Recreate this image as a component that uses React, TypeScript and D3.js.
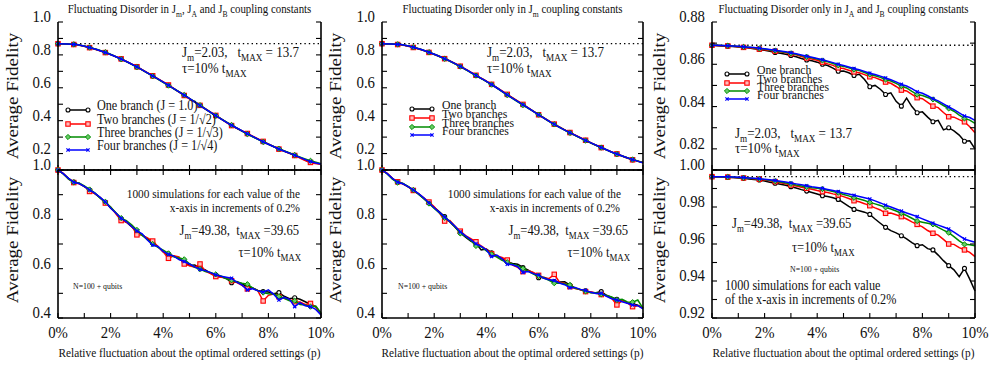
import React from 'react';
import * as d3 from 'd3';

const W = 990;
const H = 365;
const FONT = 'Liberation Serif, Times New Roman, serif';
const SQ = 0.87; // text in the figure is a little narrow

// x positions (percent of fluctuation)
const xCoarse = [0, 0.6, 1.2, 1.8, 2.4, 3.0, 3.6, 4.2, 4.8, 5.4, 6.0, 6.6, 7.2, 7.8, 8.4, 9.0, 9.6, 10];
const xFine = [0, 0.2, 0.4, 0.6, 0.8, 1.0, 1.2, 1.4, 1.6, 1.8, 2.0, 2.2, 2.4, 2.6, 2.8, 3.0, 3.2, 3.4, 3.6, 3.8,
  4.0, 4.2, 4.4, 4.6, 4.8, 5.0, 5.2, 5.4, 5.6, 5.8, 6.0, 6.2, 6.4, 6.6, 6.8, 7.0, 7.2, 7.4, 7.6, 7.8,
  8.0, 8.2, 8.4, 8.6, 8.8, 9.0, 9.2, 9.4, 9.6, 9.8, 10];

const seriesNames = ['One branch', 'Two branches', 'Three branches', 'Four branches'];
const seriesNamesJ = ['One branch (J = 1.0)', 'Two branches (J = 1/\u221A2)', 'Three branches (J = 1/\u221A3)', 'Four branches (J = 1/\u221A4)'];
const colors = ['#000000', '#ff0000', '#008b00', '#0000ff'];
const xTickLabels = ['0%', '2%', '4%', '6%', '8%', '10%'];

// top-left: disorder in Jm, JA, JB (N small)
const tlOne = [0.868, 0.864, 0.845, 0.815, 0.775, 0.727, 0.672, 0.615, 0.555, 0.492, 0.430, 0.372, 0.320, 0.272, 0.228, 0.190, 0.148, 0.137];
const tlTwo = [0.868, 0.863, 0.844, 0.814, 0.776, 0.728, 0.673, 0.617, 0.553, 0.493, 0.432, 0.370, 0.322, 0.274, 0.227, 0.188, 0.146, 0.135];
const tlThree = [0.868, 0.864, 0.845, 0.816, 0.774, 0.726, 0.671, 0.613, 0.556, 0.494, 0.431, 0.373, 0.319, 0.271, 0.229, 0.191, 0.156, 0.138];
const tlFour = [0.868, 0.864, 0.845, 0.815, 0.775, 0.727, 0.672, 0.615, 0.555, 0.492, 0.431, 0.372, 0.321, 0.272, 0.228, 0.190, 0.152, 0.136];

// top-middle: disorder only in Jm
const tmOne = [0.868, 0.864, 0.846, 0.816, 0.778, 0.730, 0.675, 0.620, 0.558, 0.497, 0.437, 0.378, 0.327, 0.280, 0.237, 0.197, 0.163, 0.145];
const tmTwo = [0.868, 0.863, 0.845, 0.815, 0.777, 0.731, 0.676, 0.621, 0.560, 0.499, 0.436, 0.379, 0.328, 0.281, 0.236, 0.198, 0.162, 0.144];
const tmThree = [0.868, 0.864, 0.846, 0.816, 0.776, 0.729, 0.674, 0.619, 0.556, 0.495, 0.437, 0.377, 0.326, 0.279, 0.236, 0.196, 0.164, 0.145];
const tmFour = [0.868, 0.864, 0.846, 0.816, 0.777, 0.730, 0.675, 0.620, 0.557, 0.497, 0.436, 0.378, 0.327, 0.280, 0.237, 0.197, 0.163, 0.144];

// top-right: disorder only in JA, JB
const trOne = [0.8690, 0.8688, 0.8687, 0.8685, 0.8684, 0.8682, 0.8680, 0.8677, 0.8674, 0.8670, 0.8666, 0.8661, 0.8656, 0.8652, 0.8647, 0.8642, 0.8636, 0.8627, 0.8620, 0.8617,
  0.8610, 0.8600, 0.8594, 0.8582, 0.8567, 0.8568, 0.8560, 0.8547, 0.8553, 0.8528, 0.8494, 0.8500, 0.8482, 0.8457, 0.8465, 0.8425, 0.8402, 0.8440, 0.8400, 0.8371,
  0.8375, 0.8350, 0.8328, 0.8335, 0.8290, 0.8300, 0.8285, 0.8265, 0.8236, 0.8238, 0.8200];
const trTwo = [0.8690, 0.8689, 0.8688, 0.8687, 0.8685, 0.8683, 0.8680, 0.8678, 0.8675, 0.8672, 0.8669, 0.8665, 0.8662, 0.8659, 0.8654, 0.8650, 0.8645, 0.8637, 0.8630, 0.8625,
  0.8619, 0.8610, 0.8602, 0.8595, 0.8583, 0.8580, 0.8572, 0.8564, 0.8560, 0.8551, 0.8541, 0.8537, 0.8527, 0.8516, 0.8510, 0.8495, 0.8478, 0.8474, 0.8458, 0.8442,
  0.8437, 0.8420, 0.8402, 0.8395, 0.8372, 0.8352, 0.8350, 0.8338, 0.8328, 0.8305, 0.8276];
const trThree = [0.8690, 0.8690, 0.8689, 0.8688, 0.8686, 0.8684, 0.8682, 0.8680, 0.8678, 0.8675, 0.8672, 0.8668, 0.8665, 0.8661, 0.8657, 0.8652, 0.8647, 0.8641, 0.8635, 0.8631,
  0.8625, 0.8618, 0.8612, 0.8604, 0.8595, 0.8590, 0.8583, 0.8575, 0.8570, 0.8561, 0.8552, 0.8546, 0.8538, 0.8528, 0.8521, 0.8510, 0.8497, 0.8488, 0.8472, 0.8457,
  0.8452, 0.8443, 0.8434, 0.8420, 0.8405, 0.8391, 0.8378, 0.8360, 0.8344, 0.8336, 0.8320];
const trFour = [0.8690, 0.8690, 0.8689, 0.8688, 0.8687, 0.8685, 0.8683, 0.8681, 0.8679, 0.8676, 0.8673, 0.8670, 0.8667, 0.8663, 0.8659, 0.8655, 0.8650, 0.8644, 0.8638, 0.8633,
  0.8627, 0.8621, 0.8615, 0.8608, 0.8600, 0.8594, 0.8587, 0.8580, 0.8574, 0.8566, 0.8558, 0.8552, 0.8544, 0.8535, 0.8527, 0.8517, 0.8505, 0.8497, 0.8485, 0.8470,
  0.8463, 0.8451, 0.8437, 0.8427, 0.8413, 0.8398, 0.8386, 0.8370, 0.8355, 0.8348, 0.8335];

// bottom-left: N=100+, disorder in Jm, JA, JB
const blOne = [1.000, 0.984, 0.966, 0.951, 0.946, 0.933, 0.919, 0.904, 0.889, 0.869, 0.846, 0.826, 0.802, 0.788, 0.770, 0.750, 0.737, 0.722, 0.705, 0.690,
  0.668, 0.659, 0.652, 0.640, 0.626, 0.613, 0.615, 0.603, 0.595, 0.582, 0.570, 0.567, 0.560, 0.543, 0.548, 0.538, 0.527, 0.522, 0.512, 0.507,
  0.505, 0.498, 0.503, 0.488, 0.478, 0.482, 0.476, 0.466, 0.455, 0.445, 0.418];
const blTwo = [1.000, 0.986, 0.964, 0.949, 0.944, 0.935, 0.913, 0.904, 0.888, 0.866, 0.850, 0.822, 0.795, 0.789, 0.774, 0.737, 0.736, 0.725, 0.712, 0.690,
  0.668, 0.642, 0.652, 0.648, 0.619, 0.612, 0.606, 0.619, 0.590, 0.580, 0.568, 0.565, 0.563, 0.551, 0.544, 0.532, 0.518, 0.521, 0.510, 0.469,
  0.492, 0.497, 0.486, 0.480, 0.474, 0.466, 0.465, 0.455, 0.459, 0.445, 0.415];
const blThree = [1.000, 0.985, 0.963, 0.950, 0.947, 0.936, 0.921, 0.907, 0.886, 0.871, 0.850, 0.827, 0.805, 0.795, 0.778, 0.757, 0.735, 0.718, 0.700, 0.686,
  0.675, 0.662, 0.648, 0.643, 0.638, 0.620, 0.605, 0.598, 0.588, 0.585, 0.577, 0.570, 0.559, 0.553, 0.546, 0.541, 0.537, 0.522, 0.510, 0.503,
  0.498, 0.497, 0.488, 0.480, 0.470, 0.470, 0.455, 0.453, 0.446, 0.448, 0.420];
const blFour = [1.000, 0.985, 0.966, 0.950, 0.945, 0.934, 0.919, 0.906, 0.889, 0.871, 0.846, 0.826, 0.804, 0.791, 0.771, 0.753, 0.741, 0.716, 0.696, 0.690,
  0.670, 0.658, 0.651, 0.637, 0.629, 0.619, 0.607, 0.597, 0.592, 0.584, 0.575, 0.569, 0.565, 0.561, 0.545, 0.533, 0.514, 0.519, 0.510, 0.505,
  0.514, 0.496, 0.473, 0.484, 0.476, 0.446, 0.462, 0.450, 0.446, 0.435, 0.412];

// bottom-middle: N=100+, disorder only in Jm
const bmOne = [1.000, 0.985, 0.965, 0.951, 0.945, 0.932, 0.918, 0.902, 0.885, 0.867, 0.849, 0.830, 0.811, 0.789, 0.768, 0.746, 0.728, 0.712, 0.703, 0.676,
  0.680, 0.664, 0.652, 0.640, 0.628, 0.621, 0.618, 0.605, 0.594, 0.582, 0.563, 0.565, 0.556, 0.548, 0.546, 0.547, 0.533, 0.522, 0.514, 0.510,
  0.503, 0.502, 0.507, 0.492, 0.483, 0.476, 0.472, 0.461, 0.458, 0.452, 0.440];
const bmTwo = [1.000, 0.986, 0.966, 0.952, 0.943, 0.933, 0.917, 0.904, 0.887, 0.870, 0.851, 0.826, 0.793, 0.795, 0.772, 0.752, 0.734, 0.722, 0.709, 0.692,
  0.677, 0.660, 0.652, 0.645, 0.635, 0.614, 0.605, 0.588, 0.592, 0.585, 0.573, 0.562, 0.560, 0.577, 0.545, 0.540, 0.527, 0.519, 0.515, 0.507,
  0.506, 0.500, 0.495, 0.490, 0.480, 0.453, 0.470, 0.461, 0.446, 0.450, 0.440];
const bmThree = [1.000, 0.984, 0.963, 0.949, 0.945, 0.934, 0.919, 0.902, 0.884, 0.864, 0.844, 0.826, 0.806, 0.792, 0.770, 0.743, 0.731, 0.715, 0.692, 0.689,
  0.672, 0.658, 0.647, 0.634, 0.626, 0.618, 0.612, 0.600, 0.590, 0.578, 0.570, 0.562, 0.553, 0.541, 0.542, 0.538, 0.534, 0.520, 0.516, 0.508,
  0.502, 0.502, 0.496, 0.491, 0.485, 0.473, 0.476, 0.465, 0.464, 0.473, 0.439];
const bmFour = [1.000, 0.985, 0.966, 0.950, 0.944, 0.933, 0.919, 0.904, 0.887, 0.866, 0.847, 0.828, 0.809, 0.791, 0.772, 0.749, 0.733, 0.718, 0.701, 0.690,
  0.676, 0.649, 0.655, 0.640, 0.618, 0.616, 0.608, 0.585, 0.588, 0.580, 0.574, 0.561, 0.555, 0.552, 0.542, 0.535, 0.523, 0.524, 0.516, 0.512,
  0.504, 0.499, 0.500, 0.488, 0.478, 0.473, 0.466, 0.460, 0.453, 0.450, 0.437];

// bottom-right: N=100+, disorder only in JA, JB
const brOne = [0.9964, 0.9963, 0.9962, 0.9960, 0.9959, 0.9957, 0.9955, 0.9952, 0.9949, 0.9946, 0.9940, 0.9934, 0.9928, 0.9923, 0.9917, 0.9910, 0.9903, 0.9894, 0.9886, 0.9878,
  0.9870, 0.9861, 0.9857, 0.9850, 0.9841, 0.9822, 0.9803, 0.9787, 0.9780, 0.9772, 0.9760, 0.9735, 0.9712, 0.9690, 0.9672, 0.9660, 0.9645, 0.9628, 0.9608, 0.9591,
  0.9596, 0.9575, 0.9568, 0.9540, 0.9510, 0.9483, 0.9460, 0.9423, 0.9468, 0.9410, 0.9346];
const brTwo = [0.9964, 0.9964, 0.9963, 0.9962, 0.9960, 0.9959, 0.9957, 0.9955, 0.9953, 0.9950, 0.9946, 0.9942, 0.9937, 0.9931, 0.9925, 0.9919, 0.9913, 0.9907, 0.9901, 0.9896,
  0.9889, 0.9883, 0.9878, 0.9871, 0.9865, 0.9856, 0.9846, 0.9834, 0.9828, 0.9818, 0.9807, 0.9795, 0.9784, 0.9766, 0.9768, 0.9758, 0.9748, 0.9735, 0.9720, 0.9706,
  0.9693, 0.9673, 0.9658, 0.9648, 0.9625, 0.9600, 0.9598, 0.9580, 0.9568, 0.9555, 0.9532];
const brThree = [0.9964, 0.9964, 0.9963, 0.9962, 0.9961, 0.9960, 0.9958, 0.9956, 0.9954, 0.9952, 0.9948, 0.9944, 0.9940, 0.9935, 0.9930, 0.9925, 0.9919, 0.9914, 0.9908, 0.9904,
  0.9901, 0.9897, 0.9891, 0.9884, 0.9877, 0.9868, 0.9860, 0.9850, 0.9843, 0.9835, 0.9825, 0.9817, 0.9808, 0.9798, 0.9789, 0.9778, 0.9766, 0.9754, 0.9739, 0.9724,
  0.9718, 0.9712, 0.9706, 0.9690, 0.9675, 0.9661, 0.9640, 0.9617, 0.9598, 0.9596, 0.9591];
const brFour = [0.9964, 0.9964, 0.9964, 0.9963, 0.9962, 0.9961, 0.9959, 0.9957, 0.9955, 0.9953, 0.9950, 0.9947, 0.9943, 0.9939, 0.9935, 0.9930, 0.9925, 0.9920, 0.9915, 0.9910,
  0.9906, 0.9901, 0.9895, 0.9889, 0.9883, 0.9876, 0.9870, 0.9863, 0.9857, 0.9850, 0.9843, 0.9833, 0.9822, 0.9810, 0.9800, 0.9789, 0.9778, 0.9768, 0.9758, 0.9748,
  0.9736, 0.9724, 0.9712, 0.9702, 0.9692, 0.9681, 0.9664, 0.9645, 0.9627, 0.9618, 0.9609];

// rich text: parts starting with "_" are subscripts
const Rich = ({ parts, size }) => {
  let shifted = false;
  return parts.map((p, i) => {
    const sub = p.startsWith('_');
    const off = size * 0.28;
    const dy = sub && !shifted ? off : !sub && shifted ? -off : 0;
    shifted = sub;
    return (
      <tspan key={i} fontSize={sub ? size * 0.7 : size} dy={dy}>
        {sub ? p.slice(1) : p}
      </tspan>
    );
  });
};

const Txt = ({ x, y, size, anchor = 'start', parts, rotate = false, dy = 0 }) => (
  <text
    transform={`translate(${x},${y}) scale(${SQ},1)${rotate ? ' rotate(-90)' : ''}`}
    fontSize={size}
    textAnchor={anchor}
    dy={dy}
    fill="#111"
    style={{ whiteSpace: 'pre', fontFamily: FONT }}
  >
    <Rich parts={parts} size={size} />
  </text>
);

const Marker = ({ kind, x, y, color }) => {
  if (kind === 0) return <circle cx={x} cy={y} r={2} fill="#fff" stroke={color} strokeWidth={1.1} />;
  if (kind === 1) return <rect x={x - 2.2} y={y - 2.2} width={4.4} height={4.4} fill="#fbb" stroke={color} strokeWidth={1.1} />;
  if (kind === 2)
    return <path d={`M${x},${y - 2.6}L${x + 2.6},${y}L${x},${y + 2.6}L${x - 2.6},${y}Z`} fill="#6c6" stroke={color} strokeWidth={1} />;
  return <path d={`M${x - 1.6},${y - 1.6}L${x + 1.6},${y + 1.6}M${x - 1.6},${y + 1.6}L${x + 1.6},${y - 1.6}`} stroke={color} strokeWidth={1.2} />;
};

const TOP = [22, 170];
const BOT = [170, 318];

const Panel = ({ p }) => {
  const x = d3.scaleLinear().domain([0, 10]).range([p.x0, p.x1]);
  const y = d3.scaleLinear().domain(p.yDomain).range([p.box[1], p.box[0]]);
  const line = d3
    .line()
    .x((d) => x(d[0]))
    .y((d) => y(d[1]))
    .curve(p.smooth ? d3.curveMonotoneX : d3.curveLinear);
  const yTicks = d3.range(0, Math.round((p.yDomain[1] - p.yDomain[0]) / p.yMinor) + 1).map((i) => p.yDomain[0] + i * p.yMinor);
  const xTicks = d3.range(0, 11);
  const tl = 5;
  const [top, bot] = p.box;
  return (
    <g>
      <line x1={p.x0} x2={p.x1} y1={y(p.ref)} y2={y(p.ref)} stroke="#000" strokeWidth={1.3} strokeDasharray="1.4,3" />
      {p.series.map((s, si) => (
        <g key={si}>
          <path d={line(p.xs.map((xv, i) => [xv, s[i]]))} fill="none" stroke={colors[si]} strokeWidth={1.5} />
          {p.xs.map((xv, i) =>
            i % p.every === 0 && xv < 9.9 ? <Marker key={i} kind={si} x={x(xv)} y={y(s[i])} color={colors[si]} /> : null
          )}
        </g>
      ))}
      {/* frame */}
      <line x1={p.x0} x2={p.x0} y1={top} y2={bot} stroke="#000" strokeWidth={1.6} />
      <line x1={p.x1} x2={p.x1} y1={top} y2={bot} stroke="#000" strokeWidth={1.6} />
      <line x1={p.x0} x2={p.x1} y1={bot} y2={bot} stroke="#000" strokeWidth={1.6} />
      {p.topLine && <line x1={p.x0} x2={p.x1} y1={top} y2={top} stroke="#000" strokeWidth={1.6} />}
      {yTicks.map((v, i) => (
        <g key={i}>
          <line x1={p.x0} x2={p.x0 + tl} y1={y(v)} y2={y(v)} stroke="#000" strokeWidth={1.1} />
          <line x1={p.x1} x2={p.x1 - tl} y1={y(v)} y2={y(v)} stroke="#000" strokeWidth={1.1} />
          {Math.abs(v / p.yMajor - Math.round(v / p.yMajor)) < 1e-6 && (
            <Txt x={p.x0 - 7} y={y(v)} dy="0.35em" size={17} anchor="end" parts={[d3.format(p.fmt)(v)]} />
          )}
        </g>
      ))}
      {xTicks.map((v) => (
        <g key={v}>
          <line x1={x(v)} x2={x(v)} y1={bot} y2={bot - tl} stroke="#000" strokeWidth={1.1} />
          {p.topLine && <line x1={x(v)} x2={x(v)} y1={top} y2={top + tl} stroke="#000" strokeWidth={1.1} />}
        </g>
      ))}
      {p.xLabels &&
        xTickLabels.map((t, i) => <Txt key={t} x={x(i * 2)} y={338} size={17} anchor="middle" parts={[t]} />)}
      <Txt x={p.yTitleX} y={(top + bot) / 2 + p.yTitleDy} size={19} anchor="middle" rotate dy="0.32em" parts={['Average Fidelity']} />
      {p.legend && (
        <g>
          {p.legend.ys.map((ly, i) => (
            <g key={i}>
              <line x1={p.legend.x0} x2={p.legend.x1} y1={ly} y2={ly} stroke={colors[i]} strokeWidth={1.5} />
              <Marker kind={i} x={p.legend.x0} y={ly} color={colors[i]} />
              <Marker kind={i} x={p.legend.x1} y={ly} color={colors[i]} />
              <Txt x={p.legend.tx} y={ly} dy="0.33em" size={p.legend.size} parts={[p.legend.labels[i]]} />
            </g>
          ))}
        </g>
      )}
      {p.notes.map((n, i) => (
        <Txt key={i} x={n.x} y={n.y} size={n.size} anchor={n.anchor || 'start'} parts={n.parts} />
      ))}
    </g>
  );
};

const jm203 = ['J', '_m', '=2.03,   t', '_MAX', ' = 13.7'];
const tau = ['\u03C4=10% t', '_MAX'];
const jm4938 = ['J', '_m', '=49.38,  t', '_MAX', ' =39.65'];

const cols = [
  { x0: 58, x1: 321 },
  { x0: 382, x1: 643 },
  { x0: 712, x1: 975 },
];

const panels = [
  {
    ...cols[0], box: TOP, yDomain: [0.1, 1.0], yMinor: 0.1, yMajor: 0.2, fmt: '.1f', xs: xCoarse, every: 1, smooth: true,
    series: [tlOne, tlTwo, tlThree, tlFour], ref: 0.868, topLine: false, xLabels: false, yTitleX: 18, yTitleDy: 0,
    legend: { x0: 68, x1: 88, tx: 97, ys: [110, 124, 137, 150], labels: seriesNamesJ, size: 14 },
    notes: [
      { x: 182, y: 57, size: 15, parts: jm203 },
      { x: 182, y: 73, size: 15, parts: tau },
    ],
  },
  {
    ...cols[1], box: TOP, yDomain: [0.1, 1.0], yMinor: 0.1, yMajor: 0.2, fmt: '.1f', xs: xCoarse, every: 1, smooth: true,
    series: [tmOne, tmTwo, tmThree, tmFour], ref: 0.868, topLine: false, xLabels: false, yTitleX: 341, yTitleDy: 0,
    legend: { x0: 412, x1: 432, tx: 442, ys: [109, 118, 127, 135], labels: seriesNames, size: 13.5 },
    notes: [
      { x: 487, y: 57, size: 15, parts: jm203 },
      { x: 487, y: 73, size: 15, parts: tau },
    ],
  },
  {
    ...cols[2], box: TOP, yDomain: [0.81, 0.88], yMinor: 0.01, yMajor: 0.02, fmt: '.2f', xs: xFine, every: 3, smooth: false,
    series: [trOne, trTwo, trThree, trFour], ref: 0.869, topLine: false, xLabels: false, yTitleX: 665, yTitleDy: 0,
    legend: { x0: 727, x1: 747, tx: 757, ys: [74, 83, 91, 99], labels: seriesNames, size: 13.5 },
    notes: [
      { x: 735, y: 138, size: 15, parts: jm203 },
      { x: 735, y: 153, size: 15, parts: tau },
    ],
  },
  {
    ...cols[0], box: BOT, yDomain: [0.4, 1.0], yMinor: 0.1, yMajor: 0.2, fmt: '.1f', xs: xFine, every: 3, smooth: false,
    series: [blOne, blTwo, blThree, blFour], ref: 1.0, topLine: true, xLabels: true, yTitleX: 18, yTitleDy: -4,
    notes: [
      { x: 300, y: 198, size: 13, anchor: 'end', parts: ['1000 simulations for each value of the'] },
      { x: 300, y: 212, size: 13, anchor: 'end', parts: ['x-axis in increments of 0.2%'] },
      { x: 299, y: 235, size: 14.5, anchor: 'end', parts: jm4938 },
      { x: 301, y: 257, size: 14.5, anchor: 'end', parts: tau },
      { x: 73, y: 289, size: 9, parts: ['N=100 + qubits'] },
    ],
  },
  {
    ...cols[1], box: BOT, yDomain: [0.4, 1.0], yMinor: 0.1, yMajor: 0.2, fmt: '.1f', xs: xFine, every: 3, smooth: false,
    series: [bmOne, bmTwo, bmThree, bmFour], ref: 1.0, topLine: true, xLabels: true, yTitleX: 341, yTitleDy: -4,
    notes: [
      { x: 621, y: 198, size: 13, anchor: 'end', parts: ['1000 simulations for each value of the'] },
      { x: 620, y: 212, size: 13, anchor: 'end', parts: ['x-axis in increments of 0.2%'] },
      { x: 628, y: 235, size: 14.5, anchor: 'end', parts: jm4938 },
      { x: 630, y: 257, size: 14.5, anchor: 'end', parts: tau },
      { x: 398, y: 289, size: 9, parts: ['N=100 + qubits'] },
    ],
  },
  {
    ...cols[2], box: BOT, yDomain: [0.92, 1.0], yMinor: 0.01, yMajor: 0.02, fmt: '.2f', xs: xFine, every: 3, smooth: false,
    series: [brOne, brTwo, brThree, brFour], ref: 0.9964, topLine: true, xLabels: true, yTitleX: 665, yTitleDy: -4,
    notes: [
      { x: 732, y: 228, size: 14.5, parts: jm4938 },
      { x: 792, y: 252, size: 14.5, parts: tau },
      { x: 790, y: 272, size: 9, parts: ['N=100 + qubits'] },
      { x: 725, y: 290, size: 14, parts: ['1000 simulations for each value'] },
      { x: 725, y: 304, size: 14, parts: ['of the x-axis in increments of 0.2%'] },
    ],
  },
];

const titles = [
  ['Fluctuating Disorder in J', '_m', ', J', '_A', ' and J', '_B', ' coupling constants'],
  ['Fluctuating Disorder only in J', '_m', ' coupling constants'],
  ['Fluctuating Disorder only in J', '_A', ' and J', '_B', ' coupling constants'],
];
const xTitle = 'Relative fluctuation about the optimal ordered settings (p)';

export default function App() {
  return (
    <svg width={W} height={H} style={{ position: 'absolute', left: 0, top: 0, background: '#fff' }}>
      <rect width={W} height={H} fill="#fff" />
      {panels.map((p, i) => (
        <Panel key={i} p={p} />
      ))}
      {cols.map((c, i) => (
        <g key={i}>
          <Txt x={(c.x0 + c.x1) / 2} y={13} size={12.5} anchor="middle" parts={titles[i]} />
          <Txt x={(c.x0 + c.x1) / 2} y={357} size={13} anchor="middle" parts={[xTitle]} />
        </g>
      ))}
    </svg>
  );
}
